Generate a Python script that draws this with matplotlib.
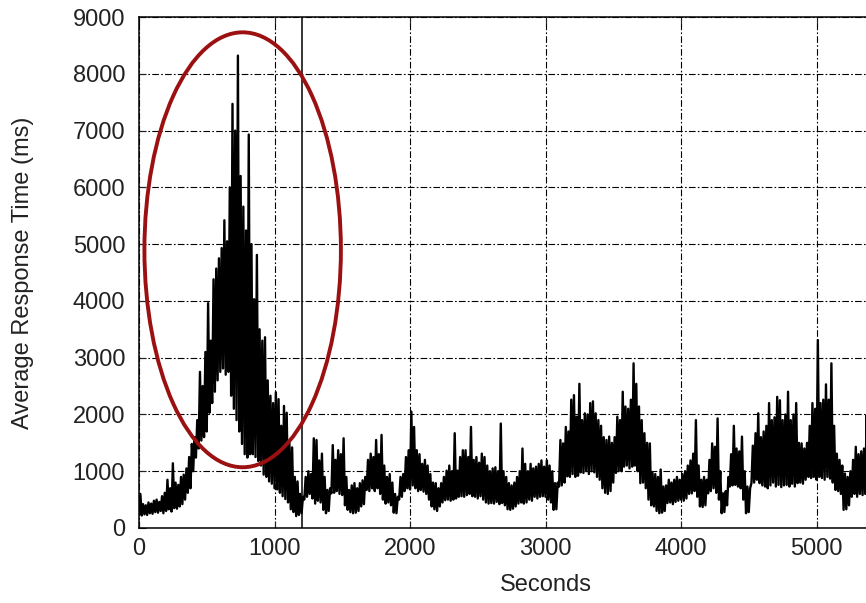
import numpy as np
import matplotlib.pyplot as plt
from matplotlib.patches import Ellipse

plt.rcParams['font.family'] = ['Liberation Sans', 'DejaVu Sans']

# response time, 20 s bins: low and high value in each bin
bin_start = np.arange(0, 5400, 20)
low = [
    250, 220, 240, 230, 260, 250, 280, 270, 300, 260,
    300, 330, 290, 350, 340, 380, 420, 500, 620, 700,
    1000, 1240, 1400, 1540, 1600, 1700, 2030, 2200, 2400, 2600,
    2750, 2810, 2700, 2750, 2330, 2100, 1900, 1700, 1480, 1300,
    1240, 1300, 1300, 1250, 1180, 1100, 940, 900, 820, 780,
    700, 680, 620, 560, 510, 450, 330, 280, 210, 230,
    260, 500, 550, 600, 520, 430, 480, 450, 320, 260,
    300, 610, 620, 650, 600, 580, 400, 320, 280, 260,
    270, 300, 380, 420, 670, 650, 700, 650, 700, 600,
    500, 430, 450, 400, 270, 260, 500, 550, 650, 700,
    680, 750, 700, 650, 670, 640, 600, 500, 380, 330,
    300, 380, 450, 490, 500, 480, 500, 520, 550, 560,
    550, 580, 600, 560, 550, 520, 560, 500, 450, 430,
    440, 430, 460, 420, 440, 400, 330, 320, 340, 380,
    430, 450, 430, 450, 500, 480, 550, 520, 550, 560,
    550, 500, 450, 320, 330, 730, 750, 800, 910, 900,
    950, 900, 920, 980, 970, 1000, 950, 1000, 980, 900,
    850, 700, 620, 600, 650, 800, 970, 1000, 1000, 1080,
    1100, 1050, 1080, 1100, 1000, 790, 800, 700, 500, 400,
    380, 300, 260, 270, 300, 440, 450, 420, 460, 480,
    500, 480, 520, 600, 610, 650, 550, 380, 370, 400,
    610, 650, 700, 620, 500, 260, 280, 400, 730, 750,
    760, 730, 700, 500, 260, 280, 790, 800, 850, 790,
    750, 730, 700, 750, 800, 730, 760, 720, 750, 760,
    730, 780, 730, 790, 800, 780, 850, 900, 880, 900,
    850, 900, 880, 850, 900, 870, 800, 670, 650, 600,
    320, 330, 400, 550, 600, 550, 600, 580, 600, 650,
]
high = [
    600, 420, 400, 450, 430, 480, 500, 460, 560, 620,
    850, 700, 1140, 800, 760, 900, 940, 1050, 1250, 1480,
    1600, 1900, 2750, 2500, 3100, 3960, 3300, 4380, 4570, 4750,
    4930, 5420, 5050, 6000, 7470, 7000, 8320, 6200, 5660, 5240,
    6930, 5000, 4030, 4810, 3500, 3300, 3360, 2600, 2330, 2200,
    2390, 2270, 1800, 2150, 2030, 1500, 1420, 900, 820, 600,
    550, 900, 1000, 950, 1580, 1550, 1190, 1310, 900, 670,
    700, 1460, 1200, 1370, 1300, 1580, 900, 670, 750, 790,
    700, 790, 840, 900, 1200, 1310, 1250, 1550, 1300, 1640,
    1100, 900, 950, 800, 600, 550, 900, 950, 1250, 1370,
    2050, 1780, 1370, 1300, 1130, 1200, 1100, 950, 800, 790,
    700, 790, 900, 1010, 1100, 1000, 1670, 1010, 1250, 1370,
    1370, 1250, 1780, 1200, 1250, 1150, 1310, 1250, 1100, 1000,
    1050, 1070, 1000, 1840, 1000, 900, 790, 750, 800, 900,
    1000, 1400, 1130, 1000, 1130, 1050, 1080, 1130, 1190, 1080,
    1190, 1100, 1000, 790, 800, 1550, 1490, 1780, 1700, 2260,
    2340, 1960, 2540, 1900, 2020, 2000, 2200, 2230, 2020, 1900,
    1800, 1600, 1550, 1610, 1500, 1600, 1960, 1900, 2400, 2140,
    2100, 2260, 2900, 2540, 2140, 1900, 1670, 1500, 1490, 970,
    950, 900, 1030, 730, 750, 850, 800, 850, 900, 850,
    950, 1000, 1100, 1190, 1310, 1900, 1100, 850, 900, 850,
    1200, 1490, 1430, 1930, 1000, 610, 650, 900, 1300, 1800,
    1400, 1350, 1610, 1000, 730, 700, 1450, 1670, 2020, 1600,
    1700, 1800, 2200, 1900, 1950, 2310, 2250, 1900, 2000, 2400,
    1900, 2000, 2200, 1500, 1490, 1400, 1500, 1800, 2200, 2100,
    3310, 2200, 2260, 2530, 2260, 2900, 1800, 1310, 1200, 1100,
    960, 900, 1000, 1200, 1430, 1300, 1350, 1400, 1990, 1200,
]
x_ticks = [0, 1000, 2000, 3000, 4000, 5000]
y_ticks = [0, 1000, 2000, 3000, 4000, 5000, 6000, 7000, 8000, 9000]
marker_time = 1200

# zigzag low -> high inside every bin, like the raw trace
t = np.column_stack([bin_start, bin_start + 10]).ravel()
v = np.column_stack([low, high]).ravel()

fig = plt.figure(figsize=(8.66, 6.03), dpi=100)
ax = fig.add_axes([139 / 866, 75 / 603, 813 / 866, 511 / 603])

ax.plot(t, v, color='black', lw=1.7)
ax.axvline(marker_time, color='black', lw=1.1)

ax.add_patch(Ellipse((765, 4900), 1450, 7660, fill=False,
                     edgecolor='#9b1111', lw=2.8, zorder=5))

ax.set_xlim(0, 6000)
ax.set_ylim(0, 9000)
ax.set_xticks(x_ticks)
ax.set_yticks(y_ticks)
ax.grid(True, color='black', lw=0.8, linestyle=(0, (6, 2, 1.5, 2)))
ax.tick_params(direction='in', length=5, width=0.8, labelsize=17,
               top=True, right=True, colors='#222222')
ax.tick_params(axis='x', pad=7)
ax.tick_params(axis='y', pad=10)
for s in ax.spines.values():
    s.set_linewidth(1.1)

ax.set_xlabel('Seconds', fontsize=17, color='#222222', labelpad=10)
ax.set_ylabel('Average Response Time (ms)', fontsize=17, color='#222222')
ax.yaxis.set_label_coords(-105 / 813, 0.5)

fig.savefig('out.png', dpi=100)
